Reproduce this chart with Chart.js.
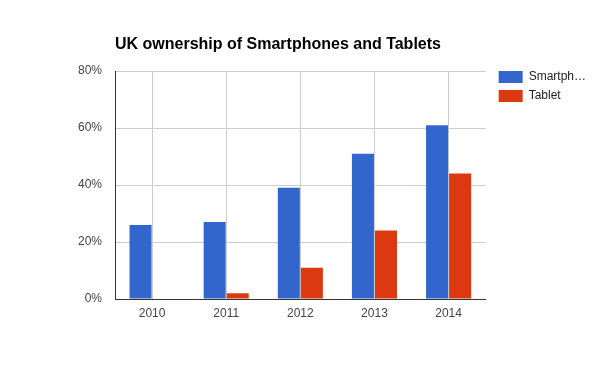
<!DOCTYPE html>
<html>
<head>
<meta charset="utf-8">
<script src="https://cdn.jsdelivr.net/npm/chart.js@4.4.1/dist/chart.umd.min.js"></script>
<style>
  html, body { margin: 0; padding: 0; background: #fff; }
</style>
</head>
<body>
<canvas id="myChart" width="600" height="371"></canvas>
<script>
// chart data
var years = ['2010', '2011', '2012', '2013', '2014'];
var seriesNames = ['Smartphones', 'Tablet'];
var smartphones = [26, 27, 39, 51, 61];
var tablets = [0, 2, 11, 24, 44];
var tickStep = 20;
var tickMax = 80;

Chart.defaults.font.family = '"Liberation Sans", Arial, sans-serif';
Chart.defaults.font.size = 12;

const ctx = document.getElementById('myChart');
new Chart(ctx, {
    type: 'bar',
    data: {
        labels: years,
        datasets: [
            {
                label: seriesNames[0],
                data: smartphones,
                backgroundColor: '#3366cc',
                categoryPercentage: 0.6216,
                barPercentage: 0.9565
            },
            {
                label: seriesNames[1],
                data: tablets,
                backgroundColor: '#dc3912',
                categoryPercentage: 0.6216,
                barPercentage: 0.9565
            }
        ]
    },
    options: {
        responsive: false,
        animation: false,
        layout: {
            padding: { left: 0, right: 10, top: 0, bottom: 0 }
        },
        plugins: {
            title: {
                display: true,
                text: 'UK ownership of Smartphones and Tablets',
                align: 'start',
                fullSize: false,
                color: '#000',
                font: { size: 16, weight: 'bold' },
                padding: { top: 35, bottom: 16.8 }
            },
            legend: {
                position: 'right',
                align: 'start',
                title: {
                    display: true,
                    text: '',
                    font: { size: 12 },
                    padding: { top: 49.6, bottom: 0 }
                },
                labels: {
                    boxWidth: 24,
                    boxHeight: 12,
                    padding: 7,
                    color: '#222',
                    font: { size: 12 },
                    generateLabels: function (chart) {
                        var items = Chart.defaults.plugins.legend.labels.generateLabels(chart);
                        items.forEach(function (it) {
                            if (it.text.length > 8) {
                                it.text = it.text.slice(0, 7) + '\u2026';
                            }
                        });
                        return items;
                    }
                }
            },
            tooltip: { enabled: false }
        },
        scales: {
            x: {
                grid: { color: '#cccccc', offset: false, drawTicks: false },
                border: { color: '#333333' },
                ticks: { color: '#444', padding: 7 },
                afterFit: function (s) { s.height = 72; }
            },
            y: {
                min: 0,
                max: tickMax,
                grid: { color: '#cccccc', drawTicks: false },
                border: { color: '#333333' },
                ticks: {
                    stepSize: tickStep,
                    color: '#444',
                    padding: 13,
                    callback: function (v) { return v + '%'; }
                },
                afterFit: function (s) { s.width = 115; }
            },
            gap: {
                position: 'right',
                grid: { display: false },
                border: { display: false },
                ticks: { display: false },
                afterFit: function (s) { s.width = 6; }
            }
        }
    }
});
</script>
</body>
</html>
